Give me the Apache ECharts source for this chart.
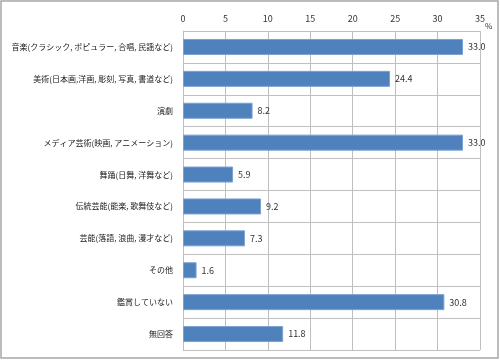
<!DOCTYPE html>
<html><head><meta charset="utf-8">
<script src="https://cdn.jsdelivr.net/npm/echarts@6/dist/echarts.min.js"></script>
<style>html,body{margin:0;padding:0;background:#fff}#c{width:500px;height:360px}</style>
</head><body><div id="c"></div>
<script>
const categories = [
  "音楽(クラシック, ポピュラー, 合唱, 民謡など)",
  "美術(日本画,洋画, 彫刻, 写真, 書道など)",
  "演劇",
  "メディア芸術(映画, アニメーション)",
  "舞踊(日舞, 洋舞など)",
  "伝統芸能(能楽, 歌舞伎など)",
  "芸能(落語, 浪曲, 漫才など)",
  "その他",
  "鑑賞していない",
  "無回答"
];
const values = [33.0, 24.4, 8.2, 33.0, 5.9, 9.2, 7.3, 1.6, 30.8, 11.8];
const xTicks = { min: 0, max: 35, interval: 5 };
const unitLabel = "%";

const font = "'Noto Sans CJK JP', sans-serif";
const chart = echarts.init(document.getElementById('c'), null, { renderer: 'canvas' });
chart.setOption({
  animation: false,
  backgroundColor: '#fff',
  grid: { left: 183, right: 20, top: 31, bottom: 10, containLabel: false, outerBoundsMode: 'none' },
  xAxis: {
    type: 'value', position: 'top',
    min: xTicks.min, max: xTicks.max, interval: xTicks.interval,
    axisLine: { show: false }, axisTick: { show: false },
    axisLabel: { fontSize: 9, color: '#333', fontFamily: font, margin: 8 },
    splitLine: { show: true, lineStyle: { color: '#bfbfbf', width: 1 } }
  },
  yAxis: {
    type: 'category', inverse: true, data: categories,
    axisLine: { show: true, lineStyle: { color: '#bfbfbf' } },
    axisTick: { show: false },
    axisLabel: { fontSize: 8, color: '#222', fontFamily: font, margin: 10 },
    splitLine: { show: true, lineStyle: { color: '#bfbfbf', width: 1 } }
  },
  series: [{
    type: 'bar', data: values, barWidth: 16,
    itemStyle: { color: '#4f81bd', borderColor: '#7ba0d0', borderWidth: 1 },
    label: { show: true, position: 'right', distance: 5, fontSize: 9, color: '#333', fontFamily: font,
      formatter: p => p.value.toFixed(1) }
  }],
  graphic: [
    { type: 'rect', shape: { x: 1, y: 1, width: 497, height: 357 }, style: { fill: 'none', stroke: '#a6a6a6', lineWidth: 1.5 }, silent: true },
    { type: 'text', left: 485, top: 22, style: { text: unitLabel, fontSize: 8, fill: '#333', fontFamily: font } }
  ]
});
</script></body></html>
